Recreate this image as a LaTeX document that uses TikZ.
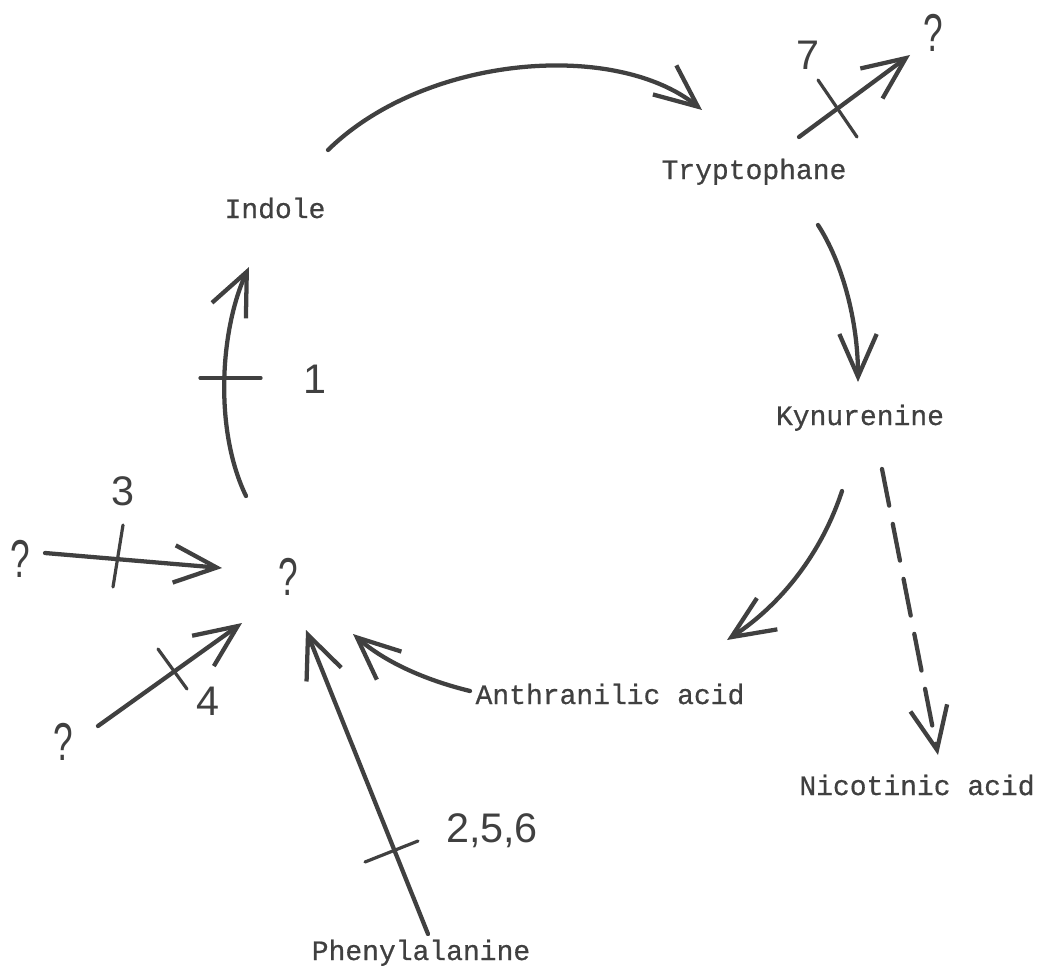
\documentclass[tikz,border=0pt]{standalone}
\usepackage{fontspec}
\newfontfamily\tw[FakeBold=0.6]{Liberation Mono}
\newfontfamily\hand{Liberation Sans}
\usetikzlibrary{arrows.meta}
\definecolor{ink}{gray}{0.25}
\begin{document}
\begin{tikzpicture}[x=0.75pt,y=-0.75pt,
  lbl/.style={font=\tw\fontsize{21}{24}\selectfont, text=ink, inner sep=0, anchor=base},
  hnd/.style={font=\hand\fontsize{31}{36}\selectfont, text=ink, inner sep=0, anchor=base},
  qm/.style={font=\hand\fontsize{40}{46}\selectfont, text=ink, inner sep=0, anchor=base},
  conn/.style={draw=ink, line width=3.2pt, line cap=round, -{Straight Barb[length=32pt,width=28pt]}},
  dconn/.style={conn, dash pattern=on 28pt off 14pt},
  tick/.style={draw=ink, line width=2.4pt, line cap=round}]
\useasboundingbox (0,0) rectangle (1044,977);
% labels
\node[lbl] (indole) at (275,218) {Indole};
\node[lbl] (tryp) at (754,179) {Tryptophane};
\node[lbl] (kyn) at (860,425) {Kynurenine};
\node[lbl] (anth) at (610,704) {Anthranilic acid};
\node[lbl] (nic) at (917,795) {Nicotinic acid};
\node[lbl] (phe) at (421,960) {Phenylalanine};
% hand lettering
\node[qm] (q0) at (288,595) {\scalebox{0.66}[1]{?}};
\node[qm] (qa) at (20,577) {\scalebox{0.66}[1]{?}};
\node[qm] (qb) at (63,760) {\scalebox{0.66}[1]{?}};
\node[qm] (qc) at (933,52) {\scalebox{0.66}[1]{?}};
\node[hnd] (n1) at (315,393) {1};
\node[hnd] (n3) at (123,505) {3};
\node[hnd] (n4) at (208,715) {4};
\node[hnd] (n7) at (808,70) {7};
\node[hnd] (n256) at (492,842) {2,5,6};
% connector end points
\coordinate (iS) at (328,150); \coordinate (iE) at (702,110);
\coordinate (tS) at (818,225); \coordinate (tE) at (858,382);
\coordinate (kS) at (842,491); \coordinate (kE) at (727,640);
\coordinate (dS) at (882,469); \coordinate (dE) at (938,755);
\coordinate (aS) at (470,691); \coordinate (aE) at (353,634);
\coordinate (pS) at (428,934); \coordinate (pE) at (306,630);
\coordinate (oS) at (246,496); \coordinate (oE) at (249,267);
\coordinate (3S) at (45,553); \coordinate (3E) at (222,568);
\coordinate (4S) at (98,726); \coordinate (4E) at (242,623);
\coordinate (7S) at (799,137); \coordinate (7E) at (910,55);
% connectors
\draw[conn] (iS) .. controls (425,55) and (615,40) .. (iE);
\draw[conn] (tS) .. controls (842,262) and (858,320) .. (tE);
\draw[conn] (kS) .. controls (822,552) and (782,604) .. (kE);
\draw[dconn] (dS) -- (dE);
\draw[conn] (aS) .. controls (425,680) and (385,662) .. (aE);
\draw[conn] (pS) -- (pE);
\draw[conn] (oS) .. controls (214,430) and (220,330) .. (oE);
\draw[conn] (3S) -- (3E);
\draw[conn] (4S) -- (4E);
\draw[conn] (7S) -- (7E);
% block ticks
\coordinate (t1a) at (200,378); \coordinate (t1b) at (261,378);
\coordinate (t3a) at (123,525); \coordinate (t3b) at (113,587);
\coordinate (t4a) at (158,649); \coordinate (t4b) at (187,689);
\coordinate (t7a) at (818,80); \coordinate (t7b) at (857,137);
\coordinate (tpa) at (365,862); \coordinate (tpb) at (418,841);
\draw[tick] (t1a) -- (t1b);
\draw[tick] (t3a) -- (t3b);
\draw[tick] (t4a) -- (t4b);
\draw[tick] (t7a) -- (t7b);
\draw[tick] (tpa) -- (tpb);
\end{tikzpicture}
\end{document}
